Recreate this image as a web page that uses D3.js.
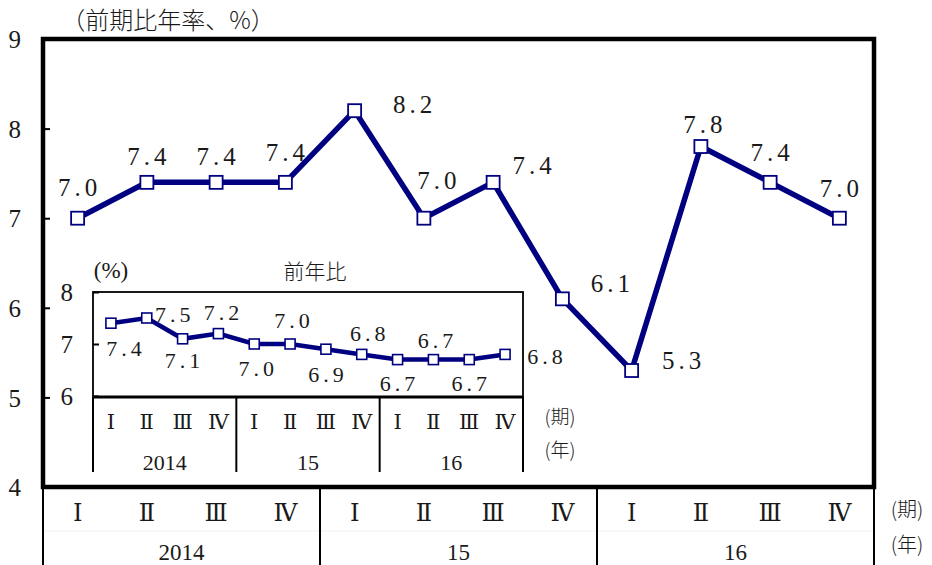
<!DOCTYPE html>
<html><head><meta charset="utf-8">
<script src="https://cdn.jsdelivr.net/npm/d3@7"></script>
<style>
html,body{margin:0;padding:0;background:#fff;}
svg{display:block;}
text{font-family:"Liberation Serif","DejaVu Serif",serif;fill:#1a1a1a;}
text.jp{font-family:"Noto Sans CJK JP","Noto Sans CJK SC",sans-serif;font-weight:300;}
text.rn{font-family:"DejaVu Serif",serif;}
</style></head>
<body>
<svg id="c" width="932" height="565"></svg>
<script>
// ---- data ----
const quarterLabels = ["Ⅰ","Ⅱ","Ⅲ","Ⅳ","Ⅰ","Ⅱ","Ⅲ","Ⅳ","Ⅰ","Ⅱ","Ⅲ","Ⅳ"];
const yearLabels = ["2014","15","16"];
const mainValues = [7.0,7.4,7.4,7.4,8.2,7.0,7.4,6.1,5.3,7.8,7.4,7.0];
const insetValues = [7.4,7.5,7.1,7.2,7.0,7.0,6.9,6.8,6.7,6.7,6.7,6.8];
const mainTicks = [4,5,6,7,8,9];
const insetTicks = [6,7,8];
const mainTitle = "（前期比年率、%）";
const insetTitle = "前年比";
const insetUnit = "(%)";

// label placement (layout)
const mainLabelOff = [[0,-31],[0,-26],[0,-26],[0,-30],[58,-6],[13,-38],[39,-17],[48,-15],[50,-10],[2,-22],[0,-30],[0,-30]];
const insetLabelOff = [[13,25],[26,-4],[0,22],[3,-21],[2,24],[2,-24],[0,25],[6,-21],[0,24],[2,-19],[0,24],[40,2]];

const svg = d3.select("#c");
const navy = "#000080";
const idx = d3.range(12);
const serif = '"Liberation Serif","DejaVu Serif",serif';

// ---- main chart ----
const M = {l:43, r:874, t:39, b:487};
const x = d3.scaleBand().domain(idx).range([M.l, M.r]);
const y = d3.scaleLinear().domain([4,9]).range([M.b, M.t]);

// category axis area
const yearBounds = [0,4,8,12];
svg.append("line").attr("x1",M.l).attr("x2",M.r).attr("y1",531).attr("y2",531).attr("stroke","#f2f2f2").attr("stroke-width",1);
yearBounds.forEach(b=>{
  const xx = b===12 ? x.range()[1] : x(b);
  svg.append("line").attr("x1",xx).attr("x2",xx).attr("y1",M.b).attr("y2",565).attr("stroke","#000").attr("stroke-width",2);
});
svg.selectAll(".q").data(quarterLabels).join("text").attr("class","rn")
  .attr("x",(d,i)=>x(i)+x.bandwidth()/2).attr("y",513)
  .attr("text-anchor","middle").attr("dominant-baseline","central")
  .attr("font-size",24).text(d=>d);
svg.selectAll(".yr").data(yearLabels).join("text")
  .attr("x",(d,i)=>(x(i*4)+ (i===2?x.range()[1]:x(i*4+4)))/2).attr("y",552)
  .attr("text-anchor","middle").attr("dominant-baseline","central")
  .attr("font-size",23).text(d=>d);
svg.append("text").attr("class","jp").attr("x",907).attr("y",508).attr("text-anchor","middle").attr("dominant-baseline","central").attr("font-size",20).text("(期)");
svg.append("text").attr("class","jp").attr("x",907).attr("y",543).attr("text-anchor","middle").attr("dominant-baseline","central").attr("font-size",20).text("(年)");

// y axis
const yAxis = d3.axisLeft(y).tickValues(mainTicks).tickSize(-7).tickPadding(22).tickFormat(d3.format("d"));
const ga = svg.append("g").attr("transform",`translate(${M.l},0)`).call(yAxis);
ga.select(".domain").remove();
ga.selectAll(".tick line").attr("stroke","#000").attr("stroke-width",2);
ga.selectAll(".tick text").style("font-family",serif).attr("font-size",25).attr("dy","0.35em");

// frame
svg.append("rect").attr("x",M.l).attr("y",M.t).attr("width",M.r-M.l).attr("height",M.b-M.t)
  .attr("fill","none").attr("stroke","#000").attr("stroke-width",4.5);

svg.append("text").attr("class","jp").attr("x",168).attr("y",18).attr("text-anchor","middle").attr("dominant-baseline","central").attr("font-size",24).text(mainTitle);

// ---- inset ----
const I = {l:93, r:523, t:292, b:397, cb:472};
const xi = d3.scaleBand().domain(idx).range([I.l, I.r]);
const yi = d3.scaleLinear().domain([6,8]).range([396, 292]);

svg.append("rect").attr("x",I.l).attr("y",I.t).attr("width",I.r-I.l).attr("height",I.b-I.t)
  .attr("fill","none").attr("stroke","#000").attr("stroke-width",1.8);
svg.append("line").attr("x1",I.l).attr("x2",I.r).attr("y1",I.b).attr("y2",I.b).attr("stroke","#000").attr("stroke-width",3);
yearBounds.forEach(b=>{
  const xx = b===12 ? xi.range()[1] : xi(b);
  svg.append("line").attr("x1",xx).attr("x2",xx).attr("y1",I.b).attr("y2",I.cb).attr("stroke","#000").attr("stroke-width",2);
});
svg.selectAll(".qi").data(quarterLabels).join("text").attr("class","rn")
  .attr("x",(d,i)=>xi(i)+xi.bandwidth()/2).attr("y",422)
  .attr("text-anchor","middle").attr("dominant-baseline","central")
  .attr("font-size",21).text(d=>d);
svg.selectAll(".yri").data(yearLabels).join("text")
  .attr("x",(d,i)=>(xi(i*4)+ (i===2?xi.range()[1]:xi(i*4+4)))/2).attr("y",462)
  .attr("text-anchor","middle").attr("dominant-baseline","central")
  .attr("font-size",22).text(d=>d);
svg.append("text").attr("class","jp").attr("x",560).attr("y",415).attr("text-anchor","middle").attr("dominant-baseline","central").attr("font-size",19).text("(期)");
svg.append("text").attr("class","jp").attr("x",560).attr("y",448).attr("text-anchor","middle").attr("dominant-baseline","central").attr("font-size",19).text("(年)");

const yAxisI = d3.axisLeft(yi).tickValues(insetTicks).tickSize(-6).tickPadding(20).tickFormat(d3.format("d"));
const gi = svg.append("g").attr("transform",`translate(${I.l},0)`).call(yAxisI);
gi.select(".domain").remove();
gi.selectAll(".tick line").attr("stroke","#000").attr("stroke-width",2);
gi.selectAll(".tick text").style("font-family",serif).attr("font-size",25).attr("dy","0.35em");

svg.append("text").attr("class","jp").attr("x",315).attr("y",270).attr("text-anchor","middle").attr("dominant-baseline","central").attr("font-size",21).text(insetTitle);
svg.append("text").attr("x",111).attr("y",270).attr("text-anchor","middle").attr("dominant-baseline","central").attr("font-size",23).text(insetUnit);

// inset line
const lineI = d3.line().x((d,i)=>xi(i)+xi.bandwidth()/2).y(d=>yi(d));
svg.append("path").datum(insetValues).attr("d",lineI).attr("fill","none").attr("stroke",navy).attr("stroke-width",4.5).attr("stroke-linejoin","miter");
svg.selectAll(".mi").data(insetValues).join("rect")
  .attr("x",(d,i)=>xi(i)+xi.bandwidth()/2-5).attr("y",d=>yi(d)-5).attr("width",10).attr("height",10)
  .attr("fill","#fff").attr("stroke",navy).attr("stroke-width",1.6);
svg.selectAll(".li").data(insetValues).join("text")
  .attr("x",(d,i)=>xi(i)+xi.bandwidth()/2+insetLabelOff[i][0]+2).attr("y",(d,i)=>yi(d)+insetLabelOff[i][1])
  .attr("text-anchor","middle").attr("dominant-baseline","central")
  .attr("font-size",22).attr("letter-spacing",4).text(d=>d.toFixed(1));

// main line
const line = d3.line().x((d,i)=>x(i)+x.bandwidth()/2).y(d=>y(d));
svg.append("path").datum(mainValues).attr("d",line).attr("fill","none").attr("stroke",navy).attr("stroke-width",5.5).attr("stroke-linejoin","miter");
svg.selectAll(".m").data(mainValues).join("rect")
  .attr("x",(d,i)=>x(i)+x.bandwidth()/2-6.5).attr("y",d=>y(d)-6.5).attr("width",13).attr("height",13)
  .attr("fill","#fff").attr("stroke",navy).attr("stroke-width",1.8);
svg.selectAll(".l").data(mainValues).join("text")
  .attr("x",(d,i)=>x(i)+x.bandwidth()/2+mainLabelOff[i][0]+2).attr("y",(d,i)=>y(d)+mainLabelOff[i][1])
  .attr("text-anchor","middle").attr("dominant-baseline","central")
  .attr("font-size",25).attr("letter-spacing",4).text(d=>d.toFixed(1));
</script>
</body></html>
